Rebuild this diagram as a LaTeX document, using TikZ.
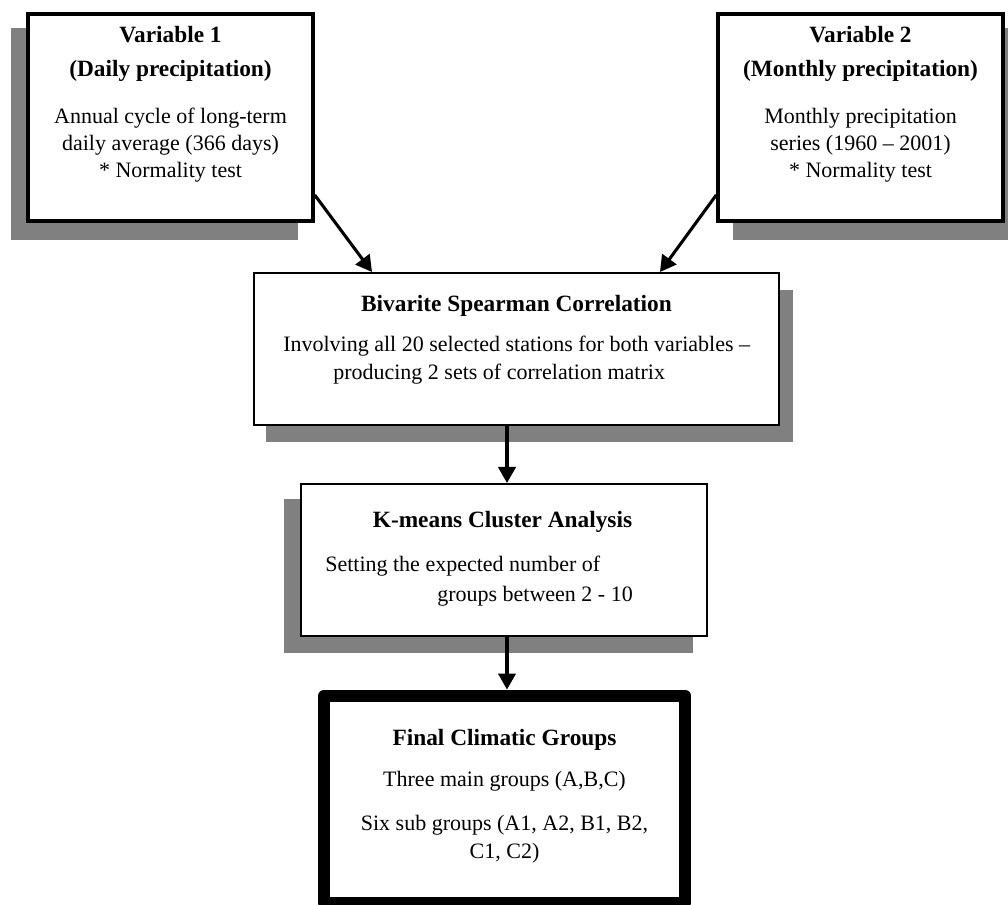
\documentclass[tikz,border=0pt]{standalone}
\usepackage{fontspec}
\setmainfont{Liberation Serif}
\usetikzlibrary{arrows.meta}
\definecolor{shadowgray}{RGB}{128,128,128}
\begin{document}
\begin{tikzpicture}[x=0.75pt,y=-0.75pt,
  shade/.style={fill=shadowgray,draw=none},
  boxA/.style={draw=black,line width=2.6pt,fill=white,inner sep=0pt},
  boxB/.style={draw=black,line width=1.5pt,fill=white,inner sep=0pt},
  boxC/.style={draw=black,line width=9pt,line join=round,fill=white,inner sep=0pt},
  txt/.style={anchor=base,inner sep=0pt,font=\fontsize{16.5}{20}\selectfont},
  ttl/.style={anchor=base,inner sep=0pt,font=\fontsize{17.5}{21}\selectfont\bfseries},
  arr/.style={line width=2.3pt,-{Triangle[length=12pt,width=13pt]}}
]
\useasboundingbox (0,0) rectangle (1008,905);

% shadows
\fill[shade] (11,28) rectangle (298,240);
\fill[shade] (733,28) rectangle (1022,240);
\fill[shade] (266,290) rectangle (793,442);
\fill[shade] (284,499) rectangle (693,653);

% boxes
\node[boxA,minimum width=213.75pt,minimum height=155.25pt] (b1) at (170.5,117.5) {};
\node[boxA,minimum width=213.75pt,minimum height=155.25pt] (b2) at (860.5,117.5) {};
\node[boxB,minimum width=393.75pt,minimum height=114pt] (b3) at (516.5,349) {};
\node[boxB,minimum width=304.5pt,minimum height=114pt] (b4) at (504,560) {};
\node[boxC,minimum width=270.4pt,minimum height=155.6pt] (b5) at (504.75,799.25) {};

% texts box 1
\node[ttl] (t1a) at (170.5,43) {Variable 1};
\node[ttl] (t1b) at (170.5,77) {(Daily precipitation)};
\node[txt] (t1c) at (170.5,124) {Annual cycle of long-term};
\node[txt] (t1d) at (170.5,151) {daily average (366 days)};
\node[txt] (t1e) at (170.5,178) {* Normality test};

% texts box 2
\node[ttl] (t2a) at (860.5,43) {Variable 2};
\node[ttl] (t2b) at (860.5,77) {(Monthly precipitation)};
\node[txt] (t2c) at (860.5,124) {Monthly precipitation};
\node[txt] (t2d) at (860.5,151) {series (1960 – 2001)};
\node[txt] (t2e) at (860.5,178) {* Normality test};

% texts box 3
\node[ttl] (t3a) at (516.5,312) {Bivarite Spearman Correlation};
\node[txt,anchor=base west] (t3b) at (283,352) {Involving all 20 selected stations for both variables –};
\node[txt,anchor=base west] (t3c) at (333,380) {producing 2 sets of correlation matrix};

% texts box 4
\node[ttl] (t4a) at (502.5,528) {K-means Cluster Analysis};
\node[txt,anchor=base west] (t4b) at (325,572) {Setting the expected number of};
\node[txt,anchor=base west] (t4c) at (437,602) {groups between 2 - 10};

% texts box 5
\node[ttl] (t5a) at (504.5,745) {Final Climatic Groups};
\node[txt] (t5b) at (504.5,787) {Three main groups (A,B,C)};
\node[txt] (t5c) at (504.5,830) {Six sub groups (A1, A2, B1, B2,};
\node[txt] (t5d) at (504.5,858) {C1, C2)};

% connectors
\draw[arr] (b1.east |- 0,195) -- (b3.north -| 372,0);
\draw[arr] (b2.west |- 0,195) -- (b3.north -| 660,0);
\draw[arr] (b3.south -| 507,0) -- (b4.north -| 507,0);
\draw[arr] (b4.south -| 507,0) -- (b5.north -| 507,0);
\end{tikzpicture}
\end{document}
